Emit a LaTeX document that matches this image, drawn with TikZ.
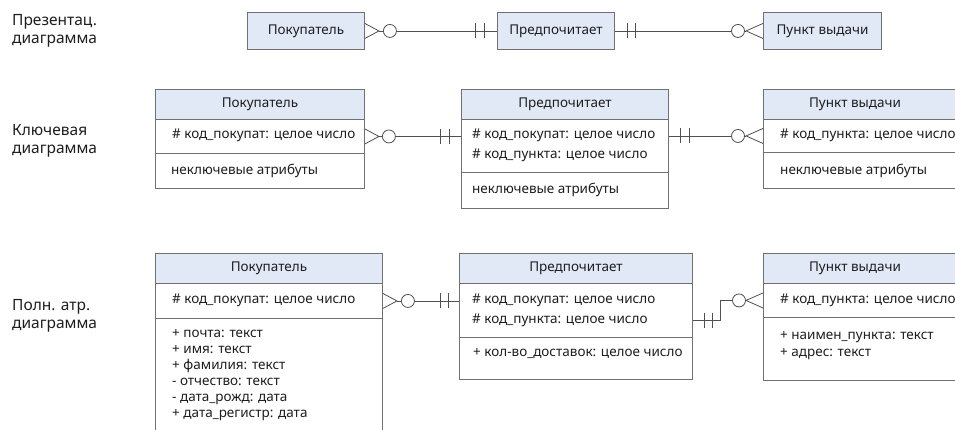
\documentclass[tikz,border=0pt]{standalone}
\usepackage{fontspec}
\setmainfont{Noto Sans}
\usetikzlibrary{calc}
\definecolor{hdrfill}{RGB}{226,233,246}
\definecolor{frame}{RGB}{112,112,112}
\definecolor{wire}{RGB}{80,80,80}
\definecolor{ink}{RGB}{30,30,30}
\begin{document}
\begin{tikzpicture}[x=1pt,y=-1pt,
  cell/.style={draw=frame, line width=0.9pt, inner sep=0pt, anchor=north west},
  head/.style={cell, fill=hdrfill},
  txt/.style={inner sep=0pt, text=ink, font=\fontsize{13.5}{16}\selectfont, align=left},
  lbl/.style={inner sep=0pt, text=ink, font=\fontsize{15.5}{18}\selectfont, align=left, anchor=west},
  link/.style={draw=wire, line width=0.8pt},
  ring/.style={draw=wire, line width=0.8pt, fill=white}
]
\useasboundingbox (0,0) rectangle (955,430);

% ---------- row labels ----------
\node[lbl] (lab-pres) at (12,30.5) {Презентац.\\диаграмма};
\node[lbl] (lab-key)  at (12,141) {Ключевая\\диаграмма};
\node[lbl] (lab-full) at (12,315.5) {Полн. атр.\\диаграмма};

% ---------- presentation diagram ----------
\node[head, minimum width=117, minimum height=37] (pb) at (247,12) {};
\node[head, minimum width=117, minimum height=37] (pp) at (497,12) {};
\node[head, minimum width=118, minimum height=37] (pv) at (763,12) {};
\node[txt] (pb-t) at (pb) {Покупатель};
\node[txt] (pp-t) at (pp) {Предпочитает};
\node[txt] (pv-t) at (pv) {Пункт выдачи};

% buyer (many, optional) -- prefers (one)
\draw[link, shorten <=14] (pb.east) -- (pp.west);
\draw[link] ($(pb.east)+(0,-7.5)$) -- ($(pb.east)+(14,0)$) -- ($(pb.east)+(0,7.5)$);
\draw[ring] ($(pb.east)+(25,0)$) circle (6.5);
\draw[link] ($(pp.west)+(-22,-7.5)$) -- ++(0,15) ($(pp.west)+(-13,-7.5)$) -- ++(0,15);
% prefers (one) -- pickup point (many, optional)
\draw[link, shorten >=17] (pp.east) -- (pv.west);
\draw[link] ($(pp.east)+(12,-7.5)$) -- ++(0,15) ($(pp.east)+(20,-7.5)$) -- ++(0,15);
\draw[ring] ($(pv.west)+(-25,0)$) circle (6.5);
\draw[link] ($(pv.west)+(0,-7.5)$) -- ($(pv.west)+(-17,0)$) -- ($(pv.west)+(0,7.5)$);

% ---------- key diagram ----------
\node[head, minimum width=209, minimum height=30] (kb-h) at (155,89) {};
\node[cell, minimum width=209, minimum height=34] (kb-k) at (155,119) {};
\node[cell, minimum width=209, minimum height=35] (kb-n) at (155,153) {};
\node[txt] (kb-t) at (kb-h) {Покупатель};
\node[txt, anchor=west] (kb-k1) at (172,135) {\# код\_покупат: целое число};
\node[txt, anchor=west] (kb-n1) at (171,171) {неключевые атрибуты};

\node[head, minimum width=207, minimum height=30] (kp-h) at (461,89) {};
\node[cell, minimum width=207, minimum height=53] (kp-k) at (461,119) {};
\node[cell, minimum width=207, minimum height=36] (kp-n) at (461,172) {};
\node[txt] (kp-t) at (kp-h) {Предпочитает};
\node[txt, anchor=west] (kp-k1) at (472,135) {\# код\_покупат: целое число};
\node[txt, anchor=west] (kp-k2) at (472,155) {\# код\_пункта: целое число};
\node[txt, anchor=west] (kp-n1) at (472,190) {неключевые атрибуты};

\node[head, minimum width=230, minimum height=30] (kv-h) at (763,89) {};
\node[cell, minimum width=230, minimum height=33] (kv-k) at (763,119) {};
\node[cell, minimum width=230, minimum height=36] (kv-n) at (763,152) {};
\node[txt] (kv-t) at (855,104) {Пункт выдачи};
\node[txt, anchor=west] (kv-k1) at (780,135) {\# код\_пункта: целое число};
\node[txt, anchor=west] (kv-n1) at (780,170.5) {неключевые атрибуты};

\draw[link, shorten <=14] (kb-k.east) -- (kp-k.west |- kb-k.east);
\draw[link] ($(kb-k.east)+(0,-7.5)$) -- ($(kb-k.east)+(14,0)$) -- ($(kb-k.east)+(0,7.5)$);
\draw[ring] ($(kb-k.east)+(24,0)$) circle (6.5);
\draw[link] ($(kp-k.west |- kb-k.east)+(-21,-7.5)$) -- ++(0,15) ($(kp-k.west |- kb-k.east)+(-12,-7.5)$) -- ++(0,15);

\draw[link, shorten >=17] (kp-k.east |- kv-k.west) -- (kv-k.west);
\draw[link] ($(kp-k.east |- kv-k.west)+(11,-7.5)$) -- ++(0,15) ($(kp-k.east |- kv-k.west)+(20,-7.5)$) -- ++(0,15);
\draw[ring] ($(kv-k.west)+(-25,0)$) circle (6.5);
\draw[link] ($(kv-k.west)+(0,-7.5)$) -- ($(kv-k.west)+(-17,0)$) -- ($(kv-k.west)+(0,7.5)$);

% ---------- full attribute diagram ----------
\node[head, minimum width=227, minimum height=30] (fb-h) at (155,253) {};
\node[cell, minimum width=227, minimum height=35] (fb-k) at (155,283) {};
\node[cell, minimum width=227, minimum height=130] (fb-n) at (155,318) {};
\node[txt] (fb-t) at (fb-h) {Покупатель};
\node[txt, anchor=west] (fb-k1) at (172,300) {\# код\_покупат: целое число};
\node[txt, anchor=north west, font=\fontsize{13.5}{16}\selectfont] (fb-n1) at (172,329)
  {+ почта: текст\\+ имя: текст\\+ фамилия: текст\\- отчество: текст\\- дата\_рожд: дата\\+ дата\_регистр: дата};

\node[head, minimum width=233, minimum height=30] (fp-h) at (459,253) {};
\node[cell, minimum width=233, minimum height=54] (fp-k) at (459,283) {};
\node[cell, minimum width=233, minimum height=42] (fp-n) at (459,337) {};
\node[txt] (fp-t) at (fp-h) {Предпочитает};
\node[txt, anchor=west] (fp-k1) at (472,300) {\# код\_покупат: целое число};
\node[txt, anchor=west] (fp-k2) at (472,320) {\# код\_пункта: целое число};
\node[txt, anchor=west] (fp-n1) at (473,354) {+ кол-во\_доставок: целое число};

\node[head, minimum width=230, minimum height=30] (fv-h) at (763,253) {};
\node[cell, minimum width=230, minimum height=34] (fv-k) at (763,283) {};
\node[cell, minimum width=230, minimum height=63] (fv-n) at (763,317) {};
\node[txt] (fv-t) at (855,268) {Пункт выдачи};
\node[txt, anchor=west] (fv-k1) at (780,300) {\# код\_пункта: целое число};
\node[txt, anchor=north west, font=\fontsize{13.5}{17}\selectfont] (fv-n1) at (780,331)
  {+ наимен\_пункта: текст\\+ адрес: текст};

\draw[link, shorten <=14] (fb-k.east) -- (fp-k.west |- fb-k.east);
\draw[link] ($(fb-k.east)+(0,-7.5)$) -- ($(fb-k.east)+(14,0)$) -- ($(fb-k.east)+(0,7.5)$);
\draw[ring] ($(fb-k.east)+(25,0)$) circle (6.5);
\draw[link] ($(fp-k.west |- fb-k.east)+(-19,-7.5)$) -- ++(0,15) ($(fp-k.west |- fb-k.east)+(-11,-7.5)$) -- ++(0,15);

\coordinate (fbend) at (720,320);
\draw[link, shorten >=17] (fp-k.east |- fbend) -- (fbend) |- (fv-k.west);
\draw[link] ($(fp-k.east |- fbend)+(11,-7.5)$) -- ++(0,15) ($(fp-k.east |- fbend)+(19,-7.5)$) -- ++(0,15);
\draw[ring] ($(fv-k.west)+(-24,0)$) circle (6.5);
\draw[link] ($(fv-k.west)+(0,-7.5)$) -- ($(fv-k.west)+(-17,0)$) -- ($(fv-k.west)+(0,7.5)$);
\end{tikzpicture}
\end{document}
